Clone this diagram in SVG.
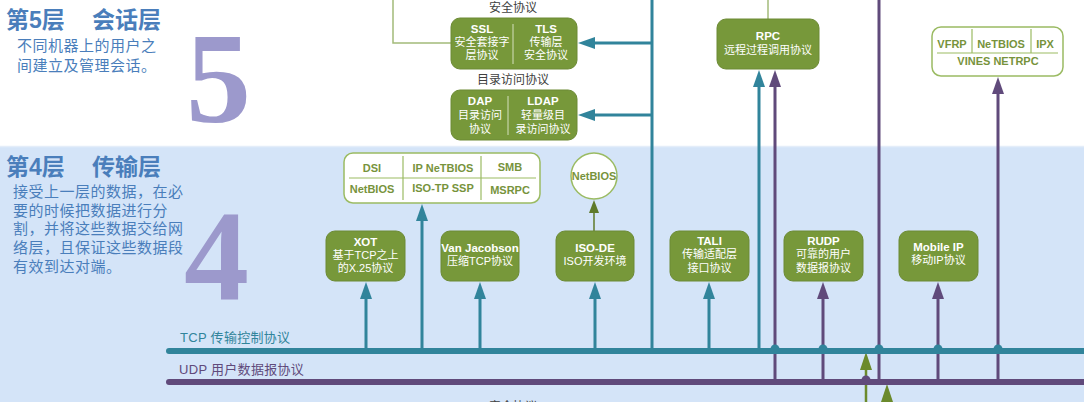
<svg xmlns="http://www.w3.org/2000/svg" width="1084" height="402" viewBox="0 0 1084 402">
<style>
.cjk{font-family:"Liberation Sans","Noto Sans CJK SC",sans-serif}
.title{font-size:23px;font-weight:bold;fill:#4a7ebb}
.desc{font-size:15px;fill:#4a7ebb;letter-spacing:0.5px}
.big{font-family:"Liberation Serif",serif;font-weight:bold;font-size:130px;fill:#9c99cc}
.gbox{fill:#77983a;stroke:#6c8a34;stroke-width:1}
.wbox{fill:#ffffff;stroke:#9bbb63;stroke-width:1.5}
.wt{font-size:11px;fill:#ffffff;text-anchor:middle}
.wtb{font-size:11.5px;fill:#ffffff;text-anchor:middle;font-weight:bold}
.gt{font-size:11px;fill:#77933c;text-anchor:middle;font-weight:bold}
.lbl{font-size:12px;fill:#404040;text-anchor:middle}
.div{stroke:#d5e0bd;stroke-width:1}
.gdiv{stroke:#9bbb63;stroke-width:1.2}
.teal{stroke:#31849b;stroke-width:3;fill:none}
.purple{stroke:#604a7b;stroke-width:3;fill:none}
.green{stroke:#6b8a2c;stroke-width:2.5;fill:none}
.lg{stroke:#a3bb7a;stroke-width:1.5;fill:none}
</style>
<defs>
<marker id="at" markerUnits="userSpaceOnUse" markerWidth="18" markerHeight="14" refX="7" refY="6" orient="auto"><path d="M0,0 L17,6 L0,12 z" fill="#31849b"/></marker>
<marker id="ap" markerUnits="userSpaceOnUse" markerWidth="18" markerHeight="14" refX="7" refY="6" orient="auto"><path d="M0,0 L17,6 L0,12 z" fill="#604a7b"/></marker>
<marker id="ag" markerUnits="userSpaceOnUse" markerWidth="18" markerHeight="14" refX="7" refY="6" orient="auto"><path d="M0,0 L18,6 L0,12 z" fill="#6b8a2c"/></marker>
<marker id="ags" markerUnits="userSpaceOnUse" markerWidth="14" markerHeight="12" refX="5" refY="5" orient="auto"><path d="M0,0 L13,5 L0,10 z" fill="#5f7a2a"/></marker>
</defs>

<rect x="0" y="0" width="1084" height="402" fill="#ffffff"/>
<rect x="0" y="146" width="1084" height="256" fill="#d4e4f8"/>
<line x1="0" y1="146.5" x2="1084" y2="146.5" stroke="#e4edf9" stroke-width="1.5"/>

<g id="layer5-label">
<text class="big" x="186" y="122">5</text>
<text class="cjk title" x="6" y="28">第5层</text>
<text class="cjk title" x="92" y="28">会话层</text>
<text class="cjk desc" x="17" y="51">不同机器上的用户之</text>
<text class="cjk desc" x="17" y="71">间建立及管理会话。</text>
</g>

<g id="layer4-label">
<text class="big" x="184" y="300">4</text>
<text class="cjk title" x="6" y="175">第4层</text>
<text class="cjk title" x="92" y="175">传输层</text>
<text class="cjk desc" x="13" y="197">接受上一层的数据，在必</text>
<text class="cjk desc" x="13" y="216">要的时候把数据进行分</text>
<text class="cjk desc" x="13" y="234">割，并将这些数据交给网</text>
<text class="cjk desc" x="13" y="253">络层，且保证这些数据段</text>
<text class="cjk desc" x="13" y="272">有效到达对端。</text>
</g>

<g id="connectors">
<polyline class="lg" points="393,0 393,43 451,43"/>
<line class="lg" x1="768" y1="0" x2="768" y2="19"/>
<!-- purple verticals -->
<line class="purple" x1="879" y1="0" x2="879" y2="382"/>
<line class="purple" x1="775" y1="382" x2="775" y2="80" marker-end="url(#ap)"/>
<line class="purple" x1="823" y1="382" x2="823" y2="292" marker-end="url(#ap)"/>
<line class="purple" x1="938" y1="382" x2="938" y2="292" marker-end="url(#ap)"/>
<line class="purple" x1="998" y1="382" x2="998" y2="87" marker-end="url(#ap)"/>
<!-- teal -->
<line class="teal" x1="652" y1="0" x2="652" y2="350"/>
<line class="teal" x1="652" y1="43" x2="588" y2="43" marker-end="url(#at)"/>
<line class="teal" x1="652" y1="115" x2="588" y2="115" marker-end="url(#at)"/>
<line class="teal" x1="759" y1="350" x2="759" y2="80" marker-end="url(#at)"/>
<line class="teal" x1="366" y1="350" x2="366" y2="292" marker-end="url(#at)"/>
<line class="teal" x1="422" y1="350" x2="422" y2="214" marker-end="url(#at)"/>
<line class="teal" x1="480" y1="350" x2="480" y2="292" marker-end="url(#at)"/>
<line class="teal" x1="595" y1="350" x2="595" y2="292" marker-end="url(#at)"/>
<line class="teal" x1="709" y1="350" x2="709" y2="292" marker-end="url(#at)"/>
<!-- green from below -->
<line class="green" x1="866" y1="402" x2="866" y2="363" marker-end="url(#ag)"/>
<line class="green" x1="887" y1="402" x2="887" y2="395" marker-end="url(#ag)"/>
<line class="green" x1="594" y1="231" x2="594" y2="208" marker-end="url(#ags)" style="stroke:#5f7a2a;stroke-width:1.5"/>
<!-- TCP bus -->
<line x1="169" y1="351" x2="1084" y2="351" stroke="#31849b" stroke-width="6" stroke-linecap="round"/>
<g fill="#31849b">
<path d="M770.5,349 a4.5,4.5 0 0 1 9,0 z"/>
<path d="M818.5,349 a4.5,4.5 0 0 1 9,0 z"/>
<path d="M874.5,349 a4.5,4.5 0 0 1 9,0 z"/>
<path d="M933.5,349 a4.5,4.5 0 0 1 9,0 z"/>
<path d="M993.5,349 a4.5,4.5 0 0 1 9,0 z"/>
</g>
<!-- UDP bus -->
<line x1="169" y1="382" x2="1084" y2="382" stroke="#604a7b" stroke-width="6" stroke-linecap="round"/>
<path d="M861.5,380 a4.5,4.5 0 0 1 9,0 z" fill="#604a7b"/>
<text class="cjk" x="180" y="342" font-size="13" fill="#31849b" letter-spacing="0.3">TCP 传输控制协议</text>
<text class="cjk" x="179" y="374" font-size="13" fill="#604a7b" letter-spacing="0.3">UDP 用户数据报协议</text>
</g>

<g id="label-security">
<text class="cjk lbl" x="513" y="12">安全协议</text>
<text class="cjk lbl" x="513" y="84">目录访问协议</text>
<text class="cjk lbl" x="513" y="411">安全协议</text>
</g>

<g id="ssl-tls">
<rect class="gbox" x="451" y="18" width="126" height="51" rx="9"/>
<line class="div" x1="513" y1="24" x2="513" y2="64"/>
<text class="cjk wtb" x="482" y="33">SSL</text>
<text class="cjk wt" x="482" y="46">安全套接字</text>
<text class="cjk wt" x="482" y="59">层协议</text>
<text class="cjk wtb" x="546" y="33">TLS</text>
<text class="cjk wt" x="546" y="46">传输层</text>
<text class="cjk wt" x="546" y="59">安全协议</text>
</g>

<g id="dap-ldap">
<rect class="gbox" x="451" y="90" width="126" height="50" rx="9"/>
<line class="div" x1="508" y1="96" x2="508" y2="135"/>
<text class="cjk wtb" x="480" y="105">DAP</text>
<text class="cjk wt" x="480" y="119">目录访问</text>
<text class="cjk wt" x="480" y="133">协议</text>
<text class="cjk wtb" x="543" y="105">LDAP</text>
<text class="cjk wt" x="543" y="119">轻量级目</text>
<text class="cjk wt" x="543" y="133">录访问协议</text>
</g>

<g id="rpc">
<rect class="gbox" x="717" y="19" width="102" height="50" rx="9"/>
<text class="cjk wtb" x="768" y="40">RPC</text>
<text class="cjk wt" x="768" y="54">远程过程调用协议</text>
</g>

<g id="vines">
<rect class="wbox" x="932" y="27" width="131" height="49" rx="9"/>
<line class="gdiv" x1="937" y1="53" x2="1058" y2="53"/>
<line class="gdiv" x1="972" y1="29" x2="972" y2="53"/>
<line class="gdiv" x1="1031" y1="29" x2="1031" y2="53"/>
<text class="cjk gt" x="952" y="48">VFRP</text>
<text class="cjk gt" x="1001" y="48">NeTBIOS</text>
<text class="cjk gt" x="1045" y="48">IPX</text>
<text class="cjk gt" x="998" y="65">VINES NETRPC</text>
</g>

<g id="session-table">
<rect class="wbox" x="344" y="153" width="196" height="50" rx="9"/>
<line class="gdiv" x1="349" y1="178" x2="536" y2="178"/>
<line class="gdiv" x1="403" y1="156" x2="403" y2="200"/>
<line class="gdiv" x1="481" y1="156" x2="481" y2="200"/>
<text class="cjk gt" x="372" y="172">DSI</text>
<text class="cjk gt" x="443" y="172">IP NeTBIOS</text>
<text class="cjk gt" x="510" y="171">SMB</text>
<text class="cjk gt" x="372" y="193">NetBIOS</text>
<text class="cjk gt" x="443" y="192">ISO-TP SSP</text>
<text class="cjk gt" x="510" y="194">MSRPC</text>
</g>

<g id="netbios">
<circle cx="594" cy="176" r="23" fill="#ffffff" stroke="#9bbb63" stroke-width="1.5"/>
<text class="cjk gt" x="594" y="180" font-size="10">NetBIOS</text>
</g>

<g id="xot">
<rect class="gbox" x="326" y="231" width="79" height="50" rx="9"/>
<text class="cjk wtb" x="365.5" y="246">XOT</text>
<text class="cjk wt" x="365.5" y="259">基于TCP之上</text>
<text class="cjk wt" x="365.5" y="272">的X.25协议</text>
</g>

<g id="vanjacobson">
<rect class="gbox" x="441" y="231" width="78" height="50" rx="9"/>
<text class="cjk wtb" x="480" y="252">Van Jacobson</text>
<text class="cjk wt" x="480" y="265">压缩TCP协议</text>
</g>

<g id="isode">
<rect class="gbox" x="556" y="231" width="78" height="50" rx="9"/>
<text class="cjk wtb" x="595" y="252">ISO-DE</text>
<text class="cjk wt" x="595" y="265">ISO开发环境</text>
</g>

<g id="tali">
<rect class="gbox" x="670" y="231" width="79" height="50" rx="9"/>
<text class="cjk wtb" x="709.5" y="245">TALI</text>
<text class="cjk wt" x="709.5" y="258">传输适配层</text>
<text class="cjk wt" x="709.5" y="272">接口协议</text>
</g>

<g id="rudp">
<rect class="gbox" x="784" y="231" width="79" height="50" rx="9"/>
<text class="cjk wtb" x="823.5" y="245">RUDP</text>
<text class="cjk wt" x="823.5" y="258">可靠的用户</text>
<text class="cjk wt" x="823.5" y="272">数据报协议</text>
</g>

<g id="mobileip">
<rect class="gbox" x="899" y="231" width="79" height="50" rx="9"/>
<text class="cjk wtb" x="938.5" y="251">Mobile IP</text>
<text class="cjk wt" x="938.5" y="264">移动IP协议</text>
</g>
</svg>
